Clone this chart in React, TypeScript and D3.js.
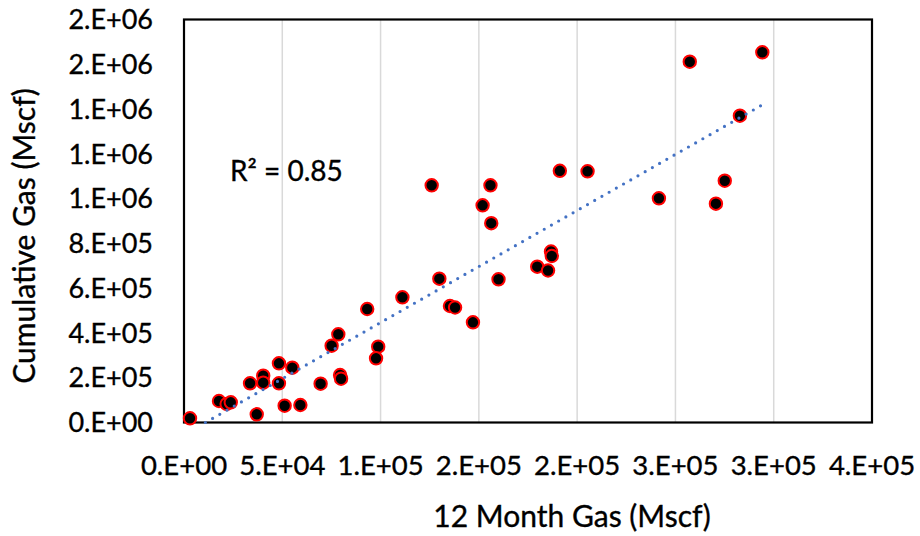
import React from "react";
import * as d3 from "d3";

// 12-month gas (Mscf) vs cumulative gas (Mscf)
const monthGas: number[] = [
  3050, 17800, 21700, 23800, 37000, 33600, 40300, 40300, 48300, 48300,
  55100, 51200, 59200, 69500, 75100, 78500, 79400, 79900, 93200, 98800,
  97700, 111100, 126000, 129900, 135300, 137900, 147000, 151900, 155900, 156300,
  160000, 179700, 185200, 186700, 187100, 191200, 205300, 241600, 257300, 270600,
  275100, 282800, 294200,
];
const cumGas: number[] = [
  18800, 96000, 82600, 90200, 36600, 175100, 209000, 177800, 175100, 264400,
  244800, 75000, 78200, 173300, 343000, 394000, 212200, 195600, 507000, 338600,
  286700, 559200, 1059500, 642300, 520300, 513600, 447500, 970100, 1059500, 890200,
  639600, 695900, 678900, 763800, 743700, 1124200, 1122000, 1001400, 1611500, 977300,
  1080000, 1370300, 1653500,
];

const xTickValues = [0, 50000, 100000, 150000, 200000, 250000, 300000, 350000];
const xTickLabels = ["0.E+00", "5.E+04", "1.E+05", "2.E+05", "2.E+05", "3.E+05", "3.E+05", "4.E+05"];
const yTickValues = [0, 200000, 400000, 600000, 800000, 1000000, 1200000, 1400000, 1600000, 1800000];
const yTickLabels = ["0.E+00", "2.E+05", "4.E+05", "6.E+05", "8.E+05", "1.E+06", "1.E+06", "1.E+06", "2.E+06", "2.E+06"];

const xTitle = "12 Month Gas (Mscf)";
const yTitle = "Cumulative Gas (Mscf)";
const r2Label = "R² = 0.85";

const FONT = "Lato, 'Open Sans', sans-serif";

export default function App() {
  const W = 920, H = 536;
  const left = 184, right = 872, top = 19.5, bottom = 422.5;
  const x = d3.scaleLinear().domain([0, 350000]).range([left, right]);
  const y = d3.scaleLinear().domain([0, 1800000]).range([bottom, top]);

  const pts = monthGas.map((v, i) => ({ x: v, y: cumGas[i] }));

  // linear least squares trendline
  const mx = d3.mean(monthGas) as number;
  const my = d3.mean(cumGas) as number;
  let sxy = 0, sxx = 0;
  pts.forEach((p) => { sxy += (p.x - mx) * (p.y - my); sxx += (p.x - mx) ** 2; });
  const slope = sxy / sxx;
  const intercept = my - slope * mx;
  const xmin = d3.min(monthGas) as number;
  const xmax = d3.max(monthGas) as number;
  let x0 = xmin;
  if (slope * x0 + intercept < 0) x0 = -intercept / slope;
  const trend = d3.line<number>().x((v) => x(v)).y((v) => y(slope * v + intercept))([x0, xmax]) as string;

  const txt = { fill: "#000", stroke: "#000", strokeWidth: 0.35 };

  return (
    <svg width={W} height={H} style={{ position: "absolute", left: 0, top: 0, background: "#fff" }} fontFamily={FONT}>
      <rect x={0} y={0} width={W} height={H} fill="#fff" />
      {xTickValues.slice(1, -1).map((v) => (
        <line key={v} x1={x(v)} x2={x(v)} y1={top} y2={bottom} stroke="#D9D9D9" strokeWidth={1.5} />
      ))}
      <rect x={left} y={top} width={right - left} height={bottom - top} fill="none" stroke="#000" strokeWidth={2.2} />
      {pts.map((p, i) => (
        <circle key={i} cx={x(p.x)} cy={y(p.y)} r={6.2} fill="#000" stroke="#FF0000" strokeWidth={2} />
      ))}
      <path d={trend} fill="none" stroke="#4472C4" strokeWidth={3.2} strokeDasharray="0 8.3" strokeLinecap="round" />
      {xTickValues.map((v, i) => (
        <text key={v} x={x(v)} y={475} textAnchor="middle" fontSize={27.5} {...txt}>{xTickLabels[i]}</text>
      ))}
      {yTickValues.map((v, i) => (
        <text key={v} x={153} y={y(v)} dy="0.36em" textAnchor="end" fontSize={27} {...txt}>{yTickLabels[i]}</text>
      ))}
      <text x={230} y={181} fontSize={28} {...txt}>{r2Label}</text>
      <text x={572} y={527} textAnchor="middle" fontSize={30} {...txt}>{xTitle}</text>
      <text transform={`translate(35,236) rotate(-90)`} textAnchor="middle" fontSize={30} {...txt}>{yTitle}</text>
    </svg>
  );
}
